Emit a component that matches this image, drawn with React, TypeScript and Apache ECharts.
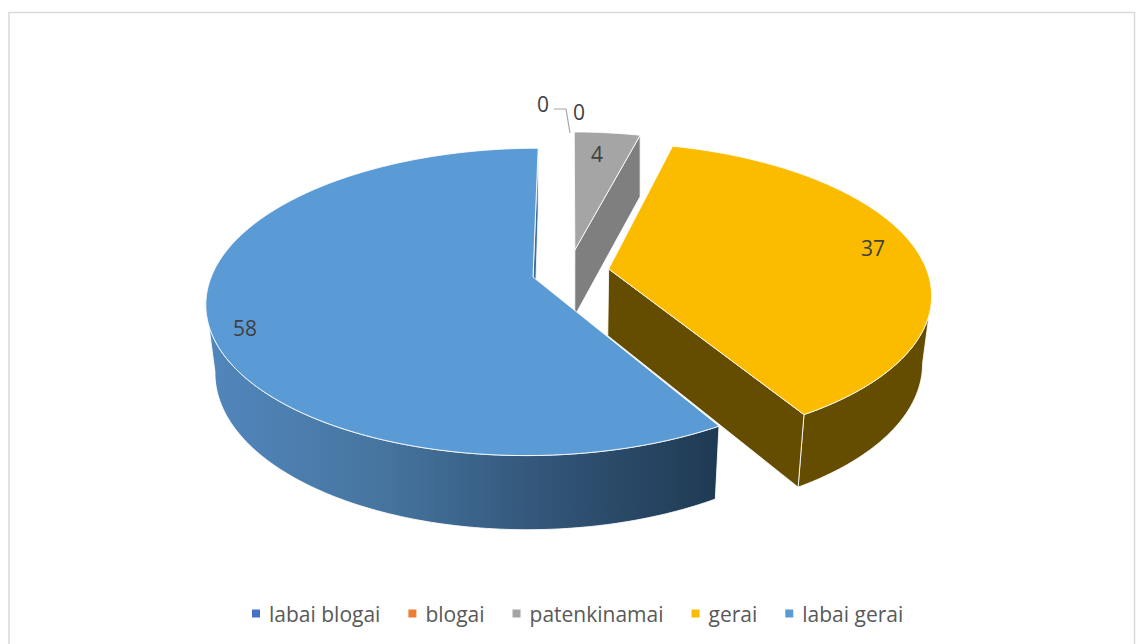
import React, { useEffect, useRef } from "react";
import * as echarts from "echarts";

const categories = ["labai blogai", "blogai", "patenkinamai", "gerai", "labai gerai"];
const values = [0, 0, 4, 37, 58];
const colors = ["#4472c4", "#ed7d31", "#a5a5a5", "#fbbc00", "#5b9bd5"];

const FONT = '"Open Sans", sans-serif';
const total = values.reduce((a, b) => a + b, 0);

// Perspective model of the Excel 3-D pie
const R = 322.6;
const CX = 533;
const CY = 277;
const VX = 570;
const PERSP = 0.1624;
const TILT = 0.465;

// Ground-plane explosion and radius of every slice
const explode = [
  { ox: 0, oy: 0, r: R },
  { ox: 0, oy: 0, r: R },
  { ox: 42, oy: 60, r: 310 },
  { ox: 76, oy: 17.4, r: 320.5 },
  { ox: 0, oy: 0, r: 321.8 },
];
const labelAt = [
  { x: 543, y: 104 },
  { x: 579, y: 112 },
  { x: 597, y: 154 },
  { x: 873, y: 248 },
  { x: 245, y: 328 },
];

type Pt = [number, number];

function top(u: number, v: number): { p: Pt; s: number } {
  const s = 1 / (1 + (PERSP * v) / R);
  return { p: [VX + (CX + u - VX) * s, CY - TILT * v * s], s };
}
function bottom(u: number, v: number): Pt {
  const { p, s } = top(u, v);
  const q = Math.min(1, Math.max(0, (1 - s) / 0.15));
  const k = 0.975 + 0.025 * q;
  return [VX + (p[0] - VX) * k, p[1] + 30 + 37 * s];
}
function ground(i: number, deg: number, radius?: number): [number, number] {
  const e = explode[i];
  const r = radius === undefined ? e.r : radius;
  const a = (deg * Math.PI) / 180;
  return [e.ox + r * Math.sin(a), e.oy + r * Math.cos(a)];
}
function sampleAngles(a0: number, a1: number): number[] {
  const n = Math.max(2, Math.ceil(Math.abs(a1 - a0)));
  const out: number[] = [];
  for (let k = 0; k <= n; k++) out.push(a0 + ((a1 - a0) * k) / n);
  return out;
}

const EDGE = "rgba(255,255,255,0.85)";

function poly(points: Pt[], fill: any, stroke = EDGE, lineWidth = 1) {
  return { type: "polygon", shape: { points }, style: { fill, stroke, lineWidth, lineJoin: "round" } };
}
function label(i: number) {
  return {
    type: "text",
    x: labelAt[i].x,
    y: labelAt[i].y,
    style: {
      text: String(values[i]),
      fill: "#404040",
      fontSize: 21,
      fontFamily: FONT,
      align: "center",
      verticalAlign: "middle",
    },
  };
}

function renderSlice(i: number) {
  const before = values.slice(0, i).reduce((a, b) => a + b, 0);
  const a0 = (before / total) * 360;
  const a1 = ((before + values[i]) / total) * 360;
  const children: any[] = [];

  if (values[i] === 0) {
    if (i === 0) {
      children.push({
        type: "polyline",
        shape: { points: [[554, 109], [566, 109], [570, 133]] },
        style: { stroke: "#a6a6a6", lineWidth: 1.2, fill: "none" },
      });
    }
    children.push(label(i));
    return { type: "group", children };
  }

  const angles = sampleAngles(a0, a1);
  const rim = angles.map((d) => ground(i, d));
  const topRim = rim.map(([u, v]) => top(u, v).p);
  const botRim = rim.map(([u, v]) => bottom(u, v));
  const apex = ground(i, 0, 0);
  const apexT = top(apex[0], apex[1]).p;
  const apexB = bottom(apex[0], apex[1]);
  const n = rim.length - 1;

  const sideWall = (idx: number, fill: any) =>
    poly([apexT, topRim[idx], botRim[idx], apexB], fill);
  // Outer wall: only the front part, closed at the silhouette of the top rim
  const outerWall = (from: number, to: number, fill: any) =>
    poly([...topRim.slice(from, to + 1), ...botRim.slice(from, to + 1).reverse()], fill);
  const extreme = (sign: number) => {
    let best = 0;
    topRim.forEach((p, k) => {
      if (sign * p[0] > sign * topRim[best][0]) best = k;
    });
    return best;
  };

  if (i === 2) {
    children.push(sideWall(n, "#7f7f7f"));
  } else if (i === 3) {
    children.push(outerWall(extreme(1), n, "#644c00"));
    children.push(sideWall(n, "#644c00"));
  } else {
    children.push(sideWall(n, "#3f6f9f"));
    children.push(
      outerWall(
        0,
        extreme(-1),
        new echarts.graphic.LinearGradient(
          206,
          0,
          718,
          0,
          [
            { offset: 0, color: "#5287bd" },
            { offset: 0.35, color: "#46749f" },
            { offset: 0.65, color: "#335679" },
            { offset: 1, color: "#1f3a53" },
          ],
          true
        )
      )
    );
  }
  children.push(poly([apexT, ...topRim], colors[i]));
  children.push(label(i));
  return { type: "group", children };
}

export default function App() {
  const ref = useRef<HTMLDivElement>(null);
  useEffect(() => {
    const chart = echarts.init(ref.current!, undefined, { renderer: "svg" });
    chart.setOption({
      animation: false,
      backgroundColor: "#ffffff",
      graphic: [
        {
          type: "rect",
          silent: true,
          shape: { x: 9, y: 12.5, width: 1125.5, height: 660 },
          style: { fill: "none", stroke: "#d9d9d9", lineWidth: 1.5 },
          z: -1,
        },
      ],
      legend: {
        left: 247,
        top: 598,
        itemWidth: 8,
        itemHeight: 8,
        itemGap: 28,
        icon: "rect",
        selectedMode: false,
        data: categories,
        textStyle: { color: "#595959", fontSize: 21, fontFamily: FONT, padding: [0, 0, 0, 4] },
      },
      series: categories.map((name, i) => ({
        type: "custom",
        name,
        coordinateSystem: "none",
        silent: true,
        itemStyle: { color: colors[i] },
        data: [[values[i]]],
        renderItem: () => renderSlice(i),
      })),
    });
    return () => chart.dispose();
  }, []);
  return <div ref={ref} style={{ position: "absolute", left: 0, top: 0, width: 1136, height: 644 }} />;
}
